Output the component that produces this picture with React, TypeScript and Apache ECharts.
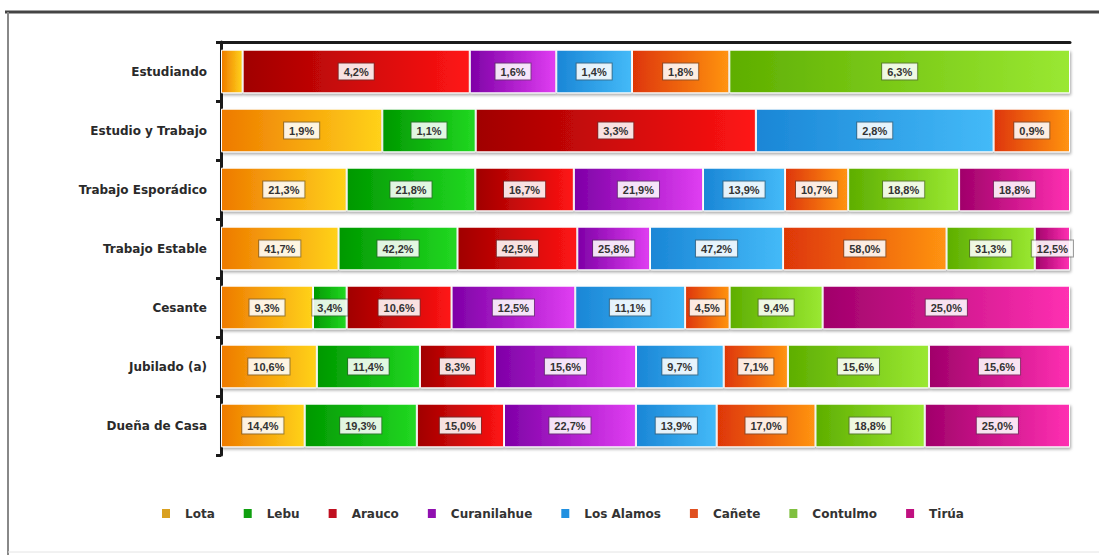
import React, { useEffect, useRef } from "react";
import * as echarts from "echarts";

const categories = [
  "Estudiando",
  "Estudio y Trabajo",
  "Trabajo Esporádico",
  "Trabajo Estable",
  "Cesante",
  "Jubilado (a)",
  "Dueña de Casa",
];

const seriesNames = ["Lota", "Lebu", "Arauco", "Curanilahue", "Los Alamos", "Cañete", "Contulmo", "Tirúa"];

const lota = [0.4, 1.9, 21.3, 41.7, 9.3, 10.6, 14.4];
const lebu = [0, 1.1, 21.8, 42.2, 3.4, 11.4, 19.3];
const arauco = [4.2, 3.3, 16.7, 42.5, 10.6, 8.3, 15.0];
const curanilahue = [1.6, 0, 21.9, 25.8, 12.5, 15.6, 22.7];
const losAlamos = [1.4, 2.8, 13.9, 47.2, 11.1, 9.7, 13.9];
const canete = [1.8, 0.9, 10.7, 58.0, 4.5, 7.1, 17.0];
const contulmo = [6.3, 0, 18.8, 31.3, 9.4, 15.6, 18.8];
const tirua = [0, 0, 18.8, 12.5, 25.0, 15.6, 25.0];

const seriesValues = [lota, lebu, arauco, curanilahue, losAlamos, canete, contulmo, tirua];

const gradients: [string, string, string][] = [
  ["#EE7A00", "#FFD21A", "#D9A020"],
  ["#009800", "#22D822", "#10A010"],
  ["#A00000", "#FF1414", "#C01020"],
  ["#7E00A6", "#E03EF2", "#9010B0"],
  ["#1A86D6", "#44BAF8", "#2090E0"],
  ["#DE3606", "#FF9412", "#E05020"],
  ["#5EAE00", "#9AE832", "#80C040"],
  ["#A0006A", "#FF30B2", "#C01080"],
];

export default function App() {
  const ref = useRef<HTMLDivElement>(null);

  useEffect(() => {
    if (!ref.current) return;
    const chart = echarts.init(ref.current, null, { renderer: "svg" });

    const rowSums = categories.map((_, i) =>
      seriesValues.reduce((s, arr) => s + arr[i], 0)
    );

    const series = seriesNames.map((name, si) => {
      const [c1, c2] = gradients[si];
      return {
        name,
        type: "bar",
        stack: "total",
        barWidth: "74%",
        itemStyle: {
          color: new echarts.graphic.LinearGradient(0, 0, 1, 0, [
            { offset: 0, color: c1 },
            { offset: 1, color: c2 },
          ]),
          borderColor: "#ffffff",
          borderWidth: 1,
          shadowColor: "rgba(0,0,0,0.35)",
          shadowBlur: 3,
          shadowOffsetX: 1,
          shadowOffsetY: 2,
        },
        label: {
          show: true,
          position: "inside",
          fontFamily: "Liberation Sans",
          fontSize: 11,
          fontWeight: "bold",
          color: "#333",
          backgroundColor: "rgba(255,255,255,0.88)",
          borderColor: "rgba(60,60,60,0.5)",
          borderWidth: 1,
          padding: [3, 5, 2, 5],
          formatter: (p: any) => p.data.raw.toFixed(1).replace(".", ",") + "%",
        },
        data: seriesValues[si].map((v, i) => ({
          value: (v / rowSums[i]) * 100,
          raw: v,
          label: { show: v >= 0.5 },
        })),
      };
    });

    chart.setOption({
      animation: false,
      backgroundColor: "#ffffff",
      grid: { left: 221, right: 29, top: 42, bottom: 100, containLabel: false },
      legend: {
        data: seriesNames.map((n, i) => ({ name: n, itemStyle: { color: gradients[i][2] } })),
        top: 502,
        left: 155,
        icon: "rect",
        itemWidth: 10,
        itemHeight: 11,
        itemGap: 27,
        textStyle: {
          fontFamily: "DejaVu Sans",
          fontSize: 12,
          fontWeight: "bold",
          color: "#333",
          padding: [0, 0, 0, 9],
        },
      },
      xAxis: {
        type: "value",
        position: "top",
        min: 0,
        max: 100,
        axisLine: { show: true, lineStyle: { color: "#1a1a1a", width: 3 } },
        axisTick: { show: false },
        axisLabel: { show: false },
        splitLine: { show: false },
      },
      yAxis: {
        type: "category",
        inverse: true,
        data: categories,
        axisLine: { show: true, lineStyle: { color: "#1a1a1a", width: 3 } },
        axisTick: { show: true, length: 5, lineStyle: { color: "#1a1a1a", width: 3 } },
        axisLabel: {
          margin: 14,
          fontFamily: "DejaVu Sans",
          fontSize: 12,
          fontWeight: "bold",
          color: "#2a2a2a",
        },
      },
      graphic: [
        { type: "line", shape: { x1: 5, y1: 12, x2: 1099, y2: 12 }, style: { stroke: "#444", lineWidth: 3 } },
        { type: "line", shape: { x1: 8, y1: 12, x2: 8, y2: 555 }, style: { stroke: "#888", lineWidth: 2 } },
        { type: "line", shape: { x1: 8, y1: 552, x2: 1099, y2: 552 }, style: { stroke: "#e4e4e4", lineWidth: 1 } },
      ],
      series,
    });

    return () => chart.dispose();
  }, []);

  return (
    <div
      ref={ref}
      style={{ position: "fixed", left: 0, top: 0, width: 1099, height: 555, background: "#fff" }}
    />
  );
}
